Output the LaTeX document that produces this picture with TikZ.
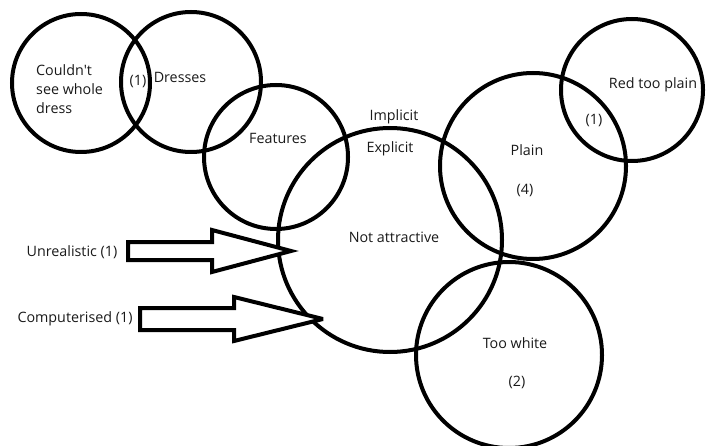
\documentclass[tikz,border=0pt]{standalone}
\usepackage{fontspec}
\setmainfont{Open Sans}
\begin{document}
\begin{tikzpicture}[x=1pt,y=-1pt,
  ring/.style={draw=black, line width=4pt, circle, inner sep=0pt},
  lbl/.style={font=\fontsize{14.3}{19}\selectfont, text=black!90, inner sep=0pt},
  blockarrow/.style={draw=black, line width=4pt, line join=miter, miter limit=4, fill=white}]
\useasboundingbox (0,0) rectangle (708,446);

% circles
\node[ring, minimum size=138pt] (couldnt) at (81,83) {};
\node[ring, minimum size=140pt] (dresses) at (191,82) {};
\node[ring, minimum size=144pt] (features) at (276,157) {};
\node[ring, minimum size=224pt] (notattr) at (390,240) {};
\node[ring, minimum size=186pt] (plain) at (533,166) {};
\node[ring, minimum size=142pt] (red) at (632,90) {};
\node[ring, minimum size=186pt] (white) at (509,355) {};

% labels
\node[lbl, anchor=west, align=left] (tcouldnt) at (36,89) {Couldn\textquotesingle t\\see whole\\dress};
\node[lbl] (tone) at (138,82) {(1)};
\node[lbl] (tdresses) at (180,77) {Dresses};
\node[lbl] (tfeatures) at (278,138) {Features};
\node[lbl] (timplicit) at (394,117) {Implicit};
\node[lbl] (texplicit) at (390,149) {Explicit};
\node[lbl] (tplain) at (527,150) {Plain};
\node[lbl] (tfour) at (525,190) {(4)};
\node[lbl] (tred) at (653,85) {Red too plain};
\node[lbl] (tredone) at (594,121) {(1)};
\node[lbl] (tnot) at (394,237) {Not attractive};
\node[lbl] (twhite) at (515,343) {Too white};
\node[lbl] (ttwo) at (517,382) {(2)};
\node[lbl] (tunreal) at (72,252) {Unrealistic (1)};
\node[lbl] (tcomp) at (75,319) {Computerised (1)};

% block arrows pointing into the large circle
\coordinate (a1) at (128,251);
\coordinate (a2) at (140,319);
\draw[blockarrow] (a1) ++(0,-9) -- ++(84,0) -- ++(0,-12) -- ++(79,21)
  -- ++(-79,21) -- ++(0,-12) -- ++(-84,0) -- cycle;
\draw[blockarrow] (a2) ++(0,-11) -- ++(94,0) -- ++(0,-11) -- ++(89,22)
  -- ++(-89,22) -- ++(0,-11) -- ++(-94,0) -- cycle;
\end{tikzpicture}
\end{document}
